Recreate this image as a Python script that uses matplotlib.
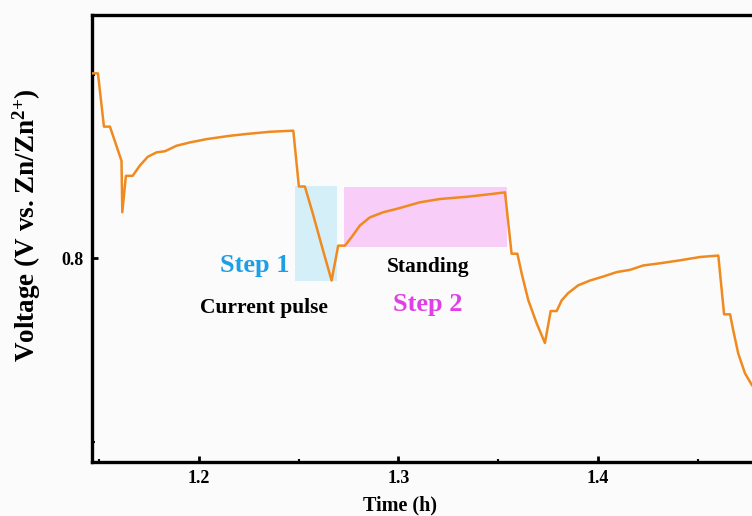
import matplotlib
matplotlib.use("Agg")
import matplotlib.pyplot as plt
from matplotlib.patches import Rectangle
from matplotlib.ticker import MultipleLocator

plt.rcParams['font.family'] = ['Liberation Serif', 'DejaVu Serif']
plt.rcParams['font.weight'] = 'bold'
plt.rcParams['mathtext.fontset'] = 'custom'
plt.rcParams['mathtext.rm'] = 'Liberation Serif:bold'
plt.rcParams['mathtext.default'] = 'rm'

# Voltage trace (time in h, voltage in V)
time_h = [1.1462, 1.1494, 1.1524, 1.1554, 1.1612, 1.1616, 1.1634, 1.1668,
          1.1704, 1.1744, 1.1788, 1.1830, 1.1888, 1.1955, 1.2039, 1.2155,
          1.2239, 1.2356, 1.2473, 1.2501, 1.2531, 1.2571, 1.2622, 1.2665,
          1.2698, 1.2732, 1.2765, 1.2807, 1.2857, 1.2924, 1.2991, 1.3108,
          1.3208, 1.3342, 1.3442, 1.3534, 1.3567, 1.3596, 1.3618, 1.3651,
          1.3693, 1.3734, 1.3763, 1.3793, 1.3818, 1.3851, 1.3901, 1.3960,
          1.4027, 1.4094, 1.4160, 1.4227, 1.4311, 1.4411, 1.4511, 1.4603,
          1.4632, 1.4662, 1.4678, 1.4703, 1.4737, 1.4772, 1.4812]
voltage = [0.8504, 0.8504, 0.8359, 0.8359, 0.8266, 0.8126, 0.8225, 0.8225,
           0.8253, 0.8277, 0.8289, 0.8292, 0.8307, 0.8316, 0.8325, 0.8334,
           0.8339, 0.8345, 0.8348, 0.8196, 0.8196, 0.8122, 0.8022, 0.7940,
           0.8035, 0.8035, 0.8058, 0.8090, 0.8112, 0.8126, 0.8135, 0.8153,
           0.8162, 0.8168, 0.8174, 0.8180, 0.8013, 0.8013, 0.7958, 0.7886,
           0.7823, 0.7770, 0.7857, 0.7857, 0.7886, 0.7906, 0.7927, 0.7940,
           0.7951, 0.7963, 0.7969, 0.7981, 0.7987, 0.7995, 0.8004, 0.8008,
           0.7848, 0.7848, 0.7804, 0.7741, 0.7687, 0.7655, 0.7628]

# highlighted windows: (t_start, t_end, v_low, v_high)
step1_box = [1.2481, 1.2690, 0.7938, 0.8198]
step2_box = [1.2728, 1.3542, 0.8031, 0.8194]

fig = plt.figure(figsize=(7.52, 5.16), dpi=100)
fig.patch.set_facecolor('#fbfbfb')
# axes runs past the right edge, as in the cropped original
ax = fig.add_axes([0.1223, 0.1047, 0.9117, 0.8663])
ax.set_facecolor('#fbfbfb')

for box, col in [(step1_box, '#d5eff9'), (step2_box, '#f8cdf8')]:
    ax.add_patch(Rectangle((box[0], box[2]), box[1] - box[0], box[3] - box[2],
                           facecolor=col, edgecolor='none', zorder=1))

ax.plot(time_h, voltage, color='#f08a1e', lw=1.8, zorder=3)

ax.text(1.2281, 0.7981, 'Step 1', color='#1c9fe4', fontsize=19,
        fontweight='bold', ha='center', va='center')
ax.text(1.2326, 0.7864, 'Current pulse', color='black', fontsize=15.5,
        fontweight='bold', ha='center', va='center')
ax.text(1.3148, 0.7978, 'Standing', color='black', fontsize=15.5,
        fontweight='bold', ha='center', va='center')
ax.text(1.3148, 0.7875, 'Step 2', color='#e03ee6', fontsize=19,
        fontweight='bold', ha='center', va='center')

ax.set_xlim(1.1464, 1.49)
ax.set_ylim(0.7446, 0.8663)
ax.xaxis.set_major_locator(MultipleLocator(0.1))
ax.xaxis.set_minor_locator(MultipleLocator(0.05))
ax.yaxis.set_major_locator(MultipleLocator(0.1))
ax.yaxis.set_minor_locator(MultipleLocator(0.05))
ax.xaxis.set_major_formatter(plt.FormatStrFormatter('%.1f'))
ax.yaxis.set_major_formatter(plt.FormatStrFormatter('%.1f'))
ax.tick_params(which='major', direction='in', length=4, width=2,
               labelsize=13, pad=6)
ax.tick_params(which='minor', direction='in', length=2, width=1.5)
for lab in ax.get_xticklabels() + ax.get_yticklabels():
    lab.set_fontweight('bold')
for sp in ax.spines.values():
    sp.set_linewidth(2.4)

ax.set_xlabel('Time (h)', fontsize=14.5, fontweight='bold')
ax.xaxis.set_label_coords(0.449, -0.074)
ax.set_ylabel('Voltage (V vs. Zn/Zn$^{2{+}}$)', fontsize=19.5, fontweight='bold')
ax.yaxis.set_label_coords(-0.072, 0.53)

fig.savefig('out.png', dpi=100, facecolor=fig.get_facecolor())
